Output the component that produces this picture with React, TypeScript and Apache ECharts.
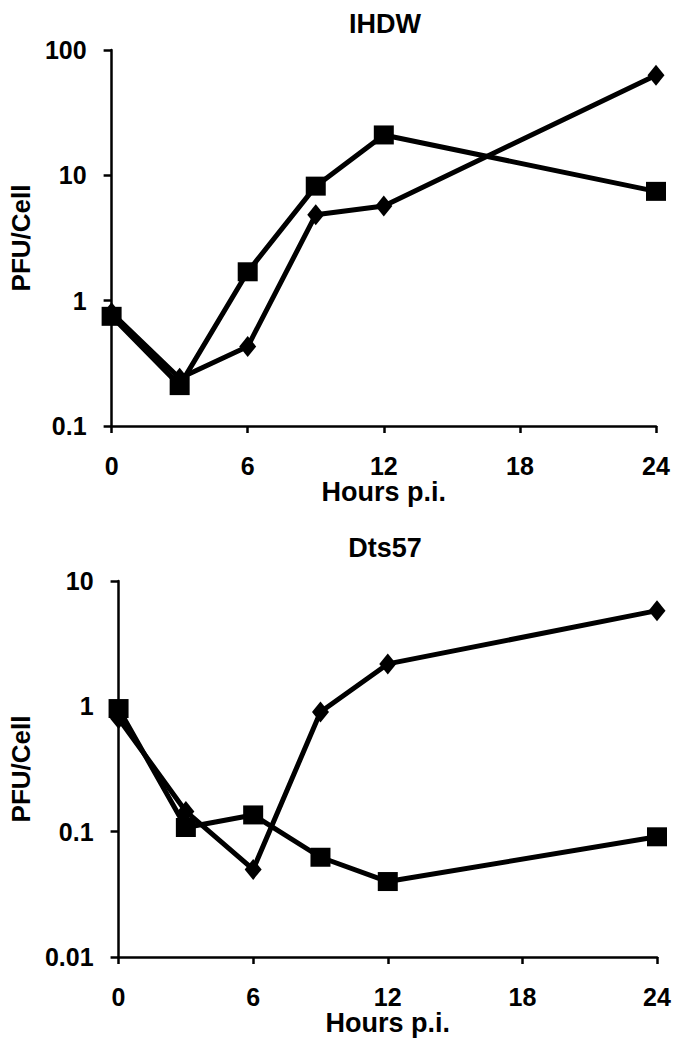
import React, { useEffect, useRef } from "react";
import * as echarts from "echarts";

const hours = [0, 3, 6, 9, 12, 24];
const xTicks = [0, 6, 12, 18, 24];

const ihdwDiamond = [0.8, 0.24, 0.43, 4.85, 5.7, 63];
const ihdwSquare = [0.75, 0.21, 1.7, 8.2, 21, 7.45];

const dtsDiamond = [0.8, 0.145, 0.05, 0.9, 2.18, 5.8];
const dtsSquare = [0.96, 0.108, 0.136, 0.0625, 0.04, 0.091];

const titles = ["IHDW", "Dts57"];
const yRanges = [
  [0.1, 100],
  [0.01, 10],
];

const FONT = '"Liberation Sans", Arial, sans-serif';

export default function App() {
  const ref = useRef<HTMLDivElement>(null);
  useEffect(() => {
    if (!ref.current) return;
    const chart = echarts.init(ref.current, null, { renderer: "svg" });
    const grids = [
      { left: 98, top: 50, width: 558, height: 376 },
      { left: 100, top: 581, width: 557, height: 376 },
    ];
    const pair = (ys: number[]) => hours.map((h, i) => [h, ys[i]]);
    const seriesData = [
      [ihdwDiamond, ihdwSquare],
      [dtsDiamond, dtsSquare],
    ];
    const axisLine = { show: true, lineStyle: { color: "#000", width: 2.5 } };
    const option: any = {
      animation: false,
      backgroundColor: "#fff",
      title: titles.map((t, i) => ({
        text: t,
        left: 380,
        top: i === 0 ? 5 : 529,
        textAlign: "center",
        textStyle: { fontFamily: FONT, fontWeight: "bold", fontSize: 27, color: "#000" },
      })),
      grid: grids.map((g) => ({ ...g, containLabel: false })),
      xAxis: grids.map((_, i) => ({
        type: "value",
        gridIndex: i,
        min: 0,
        max: 24,
        interval: 6,
        name: "Hours p.i.",
        nameLocation: "middle",
        nameGap: 51,
        nameTextStyle: { fontFamily: FONT, fontWeight: "bold", fontSize: 27, color: "#000" },
        axisLine,
        axisTick: { show: true, length: 7, inside: false, lineStyle: { color: "#000", width: 2.5 } },
        axisLabel: {
          margin: 27,
          fontFamily: FONT,
          fontWeight: "bold",
          fontSize: 25,
          color: "#000",
          formatter: (v: number) => (xTicks.includes(v) ? String(v) : ""),
        },
        splitLine: { show: false },
      })),
      yAxis: grids.map((_, i) => ({
        type: "log",
        logBase: 10,
        gridIndex: i,
        min: yRanges[i][0],
        max: yRanges[i][1],
        name: "PFU/Cell",
        nameLocation: "middle",
        nameGap: 55,
        nameTextStyle: { fontFamily: FONT, fontWeight: "bold", fontSize: 26, color: "#000" },
        axisLine,
        axisTick: { show: true, length: 8, inside: false, lineStyle: { color: "#000", width: 2.5 } },
        minorTick: { show: false },
        axisLabel: {
          margin: 25,
          fontFamily: FONT,
          fontWeight: "bold",
          fontSize: 25,
          color: "#000",
          formatter: (v: number) => String(+v.toPrecision(3)),
        },
        splitLine: { show: false },
      })),
      series: seriesData.flatMap((pairData, i) => [
        {
          type: "line",
          xAxisIndex: i,
          yAxisIndex: i,
          data: pair(pairData[0]),
          symbol: "diamond",
          symbolSize: [17, 21],
          lineStyle: { color: "#000", width: 5 },
          itemStyle: { color: "#000" },
          z: 3,
        },
        {
          type: "line",
          xAxisIndex: i,
          yAxisIndex: i,
          data: pair(pairData[1]),
          symbol: "rect",
          symbolSize: [20, 19],
          lineStyle: { color: "#000", width: 5 },
          itemStyle: { color: "#000" },
          z: 4,
        },
      ]),
    };
    chart.setOption(option);
    return () => chart.dispose();
  }, []);
  return (
    <div
      ref={ref}
      style={{ position: "fixed", left: 0, top: 0, width: 690, height: 1050, background: "#fff" }}
    />
  );
}
